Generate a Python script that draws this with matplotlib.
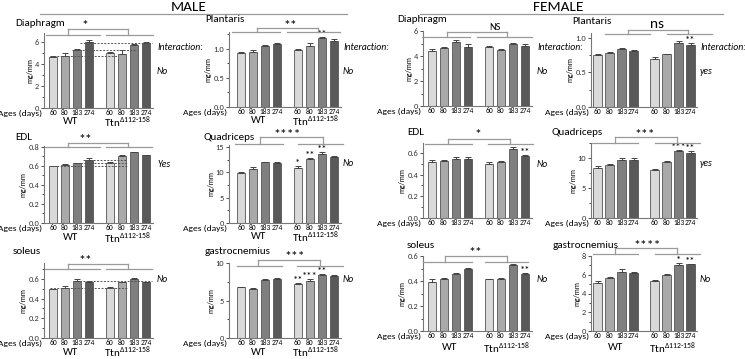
import numpy as np
import matplotlib.pyplot as plt
from matplotlib.lines import Line2D
from matplotlib.ticker import AutoMinorLocator

W, H = 745, 359
plt.rcParams['font.family'] = ['Carlito', 'Lato', 'DejaVu Sans']
plt.rcParams['mathtext.fontset'] = 'custom'
plt.rcParams['mathtext.rm'] = 'Carlito'

ages = ['60', '80', '183', '274']
# muscle mass / tibia length (mg/mm): WT 60,80,183,274 then Ttn 60,80,183,274
m_dia = [4.65, 4.75, 5.25, 5.95, 5.0, 4.9, 5.7, 5.9]
m_dia_se = [0.06, 0.25, 0.12, 0.25, 0.05, 0.35, 0.12, 0.08]
m_pla = [0.93, 0.95, 1.05, 1.08, 0.98, 1.05, 1.19, 1.14]
m_pla_se = [0.01, 0.03, 0.01, 0.02, 0.01, 0.05, 0.02, 0.03]
f_dia = [4.43, 4.61, 5.12, 4.75, 4.72, 4.52, 4.98, 4.83]
f_dia_se = [0.15, 0.1, 0.15, 0.25, 0.05, 0.07, 0.05, 0.12]
f_pla = [0.75, 0.78, 0.845, 0.81, 0.70, 0.76, 0.92, 0.90]
f_pla_se = [0.02, 0.015, 0.01, 0.01, 0.02, 0.01, 0.03, 0.02]
m_edl = [0.597, 0.607, 0.628, 0.667, 0.63, 0.705, 0.747, 0.712]
m_edl_se = [0.005, 0.012, 0.005, 0.015, 0.01, 0.015, 0.005, 0.006]
m_qua = [9.95, 10.7, 11.95, 11.75, 10.8, 12.6, 13.6, 12.95]
m_qua_se = [0.1, 0.3, 0.1, 0.2, 0.4, 0.25, 0.4, 0.2]
f_edl = [0.516, 0.528, 0.547, 0.547, 0.50, 0.519, 0.631, 0.575]
f_edl_se = [0.015, 0.005, 0.015, 0.01, 0.015, 0.005, 0.02, 0.005]
f_qua = [8.35, 8.9, 9.6, 9.6, 7.95, 9.33, 11.17, 10.9]
f_qua_se = [0.35, 0.1, 0.35, 0.35, 0.25, 0.1, 0.2, 0.2]
m_sol = [0.493, 0.505, 0.573, 0.565, 0.51, 0.566, 0.597, 0.566]
m_sol_se = [0.005, 0.02, 0.02, 0.01, 0.01, 0.005, 0.015, 0.005]
m_gas = [6.75, 6.6, 7.75, 7.9, 7.2, 7.6, 8.4, 8.3]
m_gas_se = [0.05, 0.05, 0.1, 0.1, 0.15, 0.25, 0.1, 0.05]
f_sol = [0.394, 0.415, 0.46, 0.493, 0.415, 0.42, 0.525, 0.46]
f_sol_se = [0.02, 0.01, 0.008, 0.012, 0.005, 0.005, 0.01, 0.008]
f_gas = [5.07, 5.7, 6.32, 6.14, 5.36, 6.0, 7.03, 7.1]
f_gas_se = [0.25, 0.1, 0.3, 0.15, 0.08, 0.1, 0.2, 0.05]

colors = ['#d9d9d9', '#a9a9a9', '#7f7f7f', '#595959'] * 2
pos = np.array([0, 1, 2, 3, 4.75, 5.75, 6.75, 7.75])
pitch, xr = 12.0, 8.3
cols = {'A': (44, -0.75), 'B': (229, -1.0), 'C': (423, -0.75), 'D': (591, -0.55)}

fig = plt.figure(figsize=(W / 100, H / 100), dpi=100)


def fx(x):
    return x / W


def fy(y):
    return 1 - y / H


def panel(col, ybot, ytop, ymax, ticks, tlabels, vals, se, stars=(), wt_dy=None):
    left, xl = cols[col]
    w = (xr - xl) * pitch
    ax = fig.add_axes([fx(left), fy(ybot), w / W, (ybot - ytop) / H])
    ax.bar(pos, vals, width=0.7, color=colors, edgecolor='#555555', lw=0.6, zorder=2)
    ax.errorbar(pos, vals, yerr=[np.zeros(8), se], fmt='none', ecolor='#444444',
                elinewidth=0.7, capsize=2, capthick=0.7, zorder=3)
    ax.set_xlim(xl, xr)
    ax.set_ylim(0, ymax)
    ax.set_xticks(pos)
    ax.set_xticklabels(ages * 2, fontsize=5.4)
    ax.tick_params(axis='x', length=0, pad=1)
    ax.set_yticks(ticks)
    ax.set_yticklabels(tlabels, fontsize=6)
    ax.yaxis.set_minor_locator(AutoMinorLocator(2))
    ax.tick_params(axis='y', length=2.5, width=0.6, pad=1, colors='#333333')
    ax.tick_params(axis='y', which='minor', length=1.5, width=0.5)
    for s in ['top', 'right']:
        ax.spines[s].set_visible(False)
    for s in ['left', 'bottom']:
        ax.spines[s].set_color('#777777')
        ax.spines[s].set_linewidth(0.8)
    ax.set_ylabel('mg/mm', fontsize=5.5, labelpad=1)
    ax.annotate('Ages (days)', xy=(0, 0), xycoords='axes fraction', xytext=(-1, -1.2),
                textcoords='offset points', ha='right', va='top', fontsize=6.8)
    for i, t in stars:
        ax.annotate(t, xy=(pos[i], vals[i] + se[i]), xytext=(0, -1.5),
                    textcoords='offset points', ha='center', va='bottom', fontsize=7.5)
    if wt_dy is not None:
        ax.annotate('WT', xy=(1.5, 0), xycoords=('data', 'axes fraction'),
                    xytext=(0, -wt_dy * 0.72), textcoords='offset points',
                    ha='center', va='center', fontsize=8)
        ax.annotate(r'Ttn$^{\Delta112\text{-}158}$', xy=(6.25, 0), xycoords=('data', 'axes fraction'),
                    xytext=(0, -wt_dy * 0.72), textcoords='offset points',
                    ha='center', va='center', fontsize=8)
    return ax


def bracket(l0, l1, r0, r1, yl, yt, cl, cr, txt, tx, ty, fs=10):
    segs = [([l0, l1], [yl, yl]), ([r0, r1], [yl, yl]), ([cl, cl], [yl, yt]),
            ([cr, cr], [yl, yt]), ([cl, cr], [yt, yt])]
    for xs, ys in segs:
        fig.add_artist(Line2D([fx(x) for x in xs], [fy(y) for y in ys],
                              color='#9a9a9a', lw=0.9))
    fig.text(fx(tx), fy(ty), txt, ha='center', va='center', fontsize=fs)


def dashes(ax, lines):
    for x0, x1, y in lines:
        ax.plot([x0, x1], [y, y], ls=(0, (2, 1.5)), color='#555555', lw=0.7, zorder=4)


def label(x, y, t, **kw):
    fig.text(fx(x), fy(y), t, ha='left', va='center', **kw)


# headers
fig.text(fx(189), fy(7), 'MALE', ha='center', va='center', fontsize=11)
fig.add_artist(Line2D([fx(40), fx(347)], [fy(13.5), fy(13.5)], color='#999999', lw=0.9))
fig.text(fx(558), fy(7), 'FEMALE', ha='center', va='center', fontsize=11)
fig.add_artist(Line2D([fx(420), fx(723)], [fy(13.5), fy(13.5)], color='#999999', lw=0.9))

# row 1
ax = panel('A', 108, 33, 6.8, [0, 2, 4, 6], ['0', '2', '4', '6'], m_dia, m_dia_se, wt_dy=14)
dashes(ax, [(2.25, 8.25, 5.9), (1.6, 7.0, 5.25), (-0.25, 5.4, 4.7)])
panel('B', 107, 32, 1.29, [0, 0.5, 1.0], ['0.0', '0.5', '1.0'], m_pla, m_pla_se,
      stars=[(6, '**')], wt_dy=14)
panel('C', 106, 31, 6.0, [0, 2, 4, 6], ['0', '2', '4', '6'], f_dia, f_dia_se)
panel('D', 107, 33, 1.07, [0, 0.5, 1.0], ['0.0', '0.5', '1.0'], f_pla, f_pla_se,
      stars=[(7, '**')])

# row 2
ax = panel('A', 223, 146, 0.81, [0, 0.2, 0.4, 0.6, 0.8], ['0.0', '0.2', '0.4', '0.6', '0.8'],
           m_edl, m_edl_se, wt_dy=15)
dashes(ax, [(2.5, 6.2, 0.66), (2.0, 6.2, 0.635), (-0.25, 6.2, 0.603)])
panel('B', 223, 145, 15.4, [0, 5, 10, 15], ['0', '5', '10', '15'], m_qua, m_qua_se,
      stars=[(4, '*'), (5, '**'), (6, '**')], wt_dy=14)
panel('C', 218, 143, 0.69, [0, 0.2, 0.4, 0.6], ['0.0', '0.2', '0.4', '0.6'], f_edl, f_edl_se,
      stars=[(7, '**')])
panel('D', 218, 143, 12.5, [0, 5, 10], ['0', '5', '10'], f_qua, f_qua_se,
      stars=[(6, '***'), (7, '**')])

# row 3
ax = panel('A', 338, 263, 0.76, [0, 0.2, 0.4, 0.6], ['0.0', '0.2', '0.4', '0.6'],
           m_sol, m_sol_se, wt_dy=14.5)
dashes(ax, [(2.5, 8.25, 0.573), (-0.25, 6.2, 0.505)])
panel('B', 338, 263, 10, [0, 5, 10], ['0', '5', '10'], m_gas, m_gas_se,
      stars=[(4, '**'), (5, '***'), (6, '**')], wt_dy=14.5)
panel('C', 331, 256, 0.6, [0, 0.2, 0.4, 0.6], ['0.0', '0.2', '0.4', '0.6'], f_sol, f_sol_se,
      stars=[(7, '**')], wt_dy=17)
panel('D', 331, 256, 8, [0, 2, 4, 6, 8], ['0', '2', '4', '6', '8'], f_gas, f_gas_se,
      stars=[(6, '*'), (7, '**')], wt_dy=17)

# group comparison brackets
bracket(46, 100, 106, 153, 35, 29, 68, 128, '*', 85, 26)
bracket(232, 280, 287, 340, 32, 28, 257, 318, '**', 290, 26)
bracket(422, 470, 477, 532, 37, 32, 447, 507, 'NS', 495, 27, fs=7.5)
bracket(605, 650, 667, 712, 34, 30, 628, 688, 'ns', 657, 24, fs=11)
bracket(45, 100, 106, 152, 147, 143, 68, 128, '**', 85, 140)
bracket(235, 283, 298, 343, 144, 137, 260, 323, '****', 287, 135)
bracket(425, 472, 488, 533, 144, 139, 448, 510, '*', 478, 135)
bracket(592, 638, 655, 700, 143, 137, 615, 677, '***', 645, 135)
bracket(45, 100, 106, 152, 269, 264, 68, 128, '**', 85, 261)
bracket(237, 282, 297, 343, 266, 260, 258, 320, '***', 295, 257)
bracket(423, 472, 485, 528, 262, 256, 445, 507, '**', 475, 253)
bracket(593, 638, 655, 700, 254, 248, 615, 677, '****', 647, 246)

# panel titles
for x, y, t in [(15, 23, 'Diaphragm'), (205, 20, 'Plantaris'), (397, 20, 'Diaphragm'),
                (572, 22, 'Plantaris'), (15, 138, 'EDL'), (203, 137, 'Quadriceps'),
                (407, 133, 'EDL'), (552, 133, 'Quadriceps'), (13, 252, 'soleus'),
                (205, 251, 'gastrocnemius'), (407, 245, 'soleus'), (553, 245, 'gastrocnemius')]:
    label(x, y, t, fontsize=8)

# interaction notes
for x in [157, 343, 537, 700]:
    label(x, 48, 'Interaction:', fontsize=7, style='italic')
for x, y, t in [(157, 72, 'No'), (343, 72, 'No'), (537, 72, 'No'), (700, 72, 'yes'),
                (157, 165, 'Yes'), (343, 163, 'No'), (537, 165, 'No'), (700, 164, 'yes'),
                (157, 280, 'No'), (343, 280, 'No'), (537, 280, 'No'), (700, 280, 'No')]:
    label(x, y, t, fontsize=7, style='italic')

plt.savefig('out.png', dpi=100)
